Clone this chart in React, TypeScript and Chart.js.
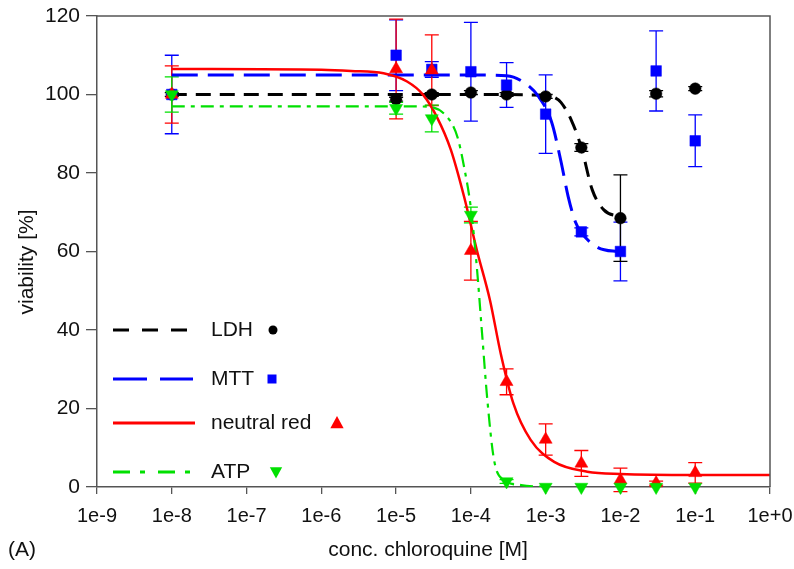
import React, { useEffect, useRef } from 'react';
import { Chart, registerables } from 'chart.js';

Chart.register(...registerables);

// ---------- data ----------
const concentrations = [1e-8, 1e-5, 3e-5, 1e-4, 3e-4, 1e-3, 3e-3, 1e-2, 3e-2, 1e-1];

const ldhValues = [100, 98.8, 100, 100.5, 100, 99.5, 86.5, 68.5, 100.2, 101.5];
const ldhErrors = [0.5, 0.5, 0.5, 0.5, 0.5, 0.5, 1, 11, 0.8, 0.5];

const mttValues = [100, 110, 106.4, 105.8, 102.4, 95, 65, 60, 106, 88.2];
const mttErrors = [10, 9, 2, 12.6, 5.7, 10, 1, 7.5, 10.2, 6.6];

const nrValues = [100, 106.5, 106.2, 60.2, 26.8, 12.1, 6, 1.8, 1, 3.6];
const nrErrors = [7.3, 12.7, 9, 7.5, 3.3, 4, 3.3, 3, 0.5, 2.6];

const atpValues = [100, 96.5, 93.9, 69.3, 1.4, 0, 0, 0, 0, 0];
const atpErrors = [4.5, 1.5, 3.4, 2, 0.5, 0, 0, 0, 0, 0];

// fitted curves
const ldhCurveX = [1e-8, 1e-5, 1e-4, 1e-3, 1.3e-3, 1.6e-3, 2.2e-3, 3e-3, 4.2e-3, 6e-3, 1e-2];
const ldhCurveY = [100, 100, 100, 99.8, 99.3, 98, 93.5, 86.5, 75.7, 70.6, 68.8];

const mttCurveX = [1e-8, 1e-5, 1e-4, 3e-4, 5e-4, 8e-4, 1.2e-3, 1.6e-3, 2e-3, 2.5e-3, 3e-3, 5e-3, 1e-2];
const mttCurveY = [105, 105, 105, 104.8, 103.2, 99.5, 93, 83, 74, 67.5, 64.8, 61, 59.9];

const nrCurveX = [1e-8, 1e-6, 2.5e-6, 6.8e-6, 1.4e-5, 2.3e-5, 3.5e-5, 5.4e-5, 8.1e-5, 1.2e-4, 1.8e-4, 2.5e-4, 3.7e-4, 6.3e-4, 1.3e-3, 3.6e-3, 1e-2, 1e-1, 1];
const nrCurveY = [106.5, 106.3, 106, 105.4, 103.3, 99.9, 94.3, 85.9, 74, 60.4, 47.6, 34.1, 21.3, 12, 6.4, 3.9, 3.3, 3.05, 3.05];

const atpCurveX = [1e-8, 1e-5, 2.6e-5, 4.8e-5, 6.6e-5, 8.1e-5, 1e-4, 1.2e-4, 1.41e-4, 1.66e-4, 2.04e-4, 2.75e-4, 4.7e-4, 7.8e-4, 1e-3];
const atpCurveY = [97, 97, 96.9, 94.3, 89.2, 81.6, 71, 56.1, 39.2, 22.2, 6.9, 1.8, 0.5, 0.1, 0];

const xTickValues = [1e-9, 1e-8, 1e-7, 1e-6, 1e-5, 1e-4, 1e-3, 1e-2, 1e-1, 1];
const xTickLabels = ['1e-9', '1e-8', '1e-7', '1e-6', '1e-5', '1e-4', '1e-3', '1e-2', '1e-1', '1e+0'];

const legendLabels = ['LDH', 'MTT', 'neutral red', 'ATP'];
const xTitle = 'conc. chloroquine [M]';
const yTitle = 'viability [%]';
const panelLabel = '(A)';

// ---------- styles ----------
const BLACK = '#000000';
const BLUE = '#0000ff';
const RED = '#ff0000';
const GREEN = '#00e000';
const FRAME = '#555555';
const TEXT = '#111111';
const FONT = "'Liberation Sans', Arial, Helvetica, sans-serif";

const toPoints = (xs: number[], ys: number[]) => xs.map((x, i) => ({ x, y: ys[i] }));

const errorSeries = [
  { values: mttValues, errors: mttErrors, color: BLUE },
  { values: ldhValues, errors: ldhErrors, color: BLACK },
  { values: nrValues, errors: nrErrors, color: RED },
  { values: atpValues, errors: atpErrors, color: GREEN },
];

const errorBarPlugin = {
  id: 'errorBars',
  beforeDatasetsDraw(chart: any) {
    const { ctx, scales } = chart;
    const xs = scales.x;
    const ys = scales.y;
    ctx.save();
    ctx.lineWidth = 1.3;
    errorSeries.forEach((s) => {
      ctx.strokeStyle = s.color;
      s.values.forEach((v, i) => {
        const e = s.errors[i];
        if (!e) return;
        const px = xs.getPixelForValue(concentrations[i]);
        const top = ys.getPixelForValue(v + e);
        const bot = ys.getPixelForValue(v - e);
        ctx.beginPath();
        ctx.moveTo(px, top);
        ctx.lineTo(px, bot);
        ctx.moveTo(px - 7, top);
        ctx.lineTo(px + 7, top);
        ctx.moveTo(px - 7, bot);
        ctx.lineTo(px + 7, bot);
        ctx.stroke();
      });
    });
    ctx.restore();
  },
};

function drawMarker(ctx: CanvasRenderingContext2D, kind: string, x: number, y: number, r: number, color: string) {
  ctx.fillStyle = color;
  ctx.beginPath();
  if (kind === 'circle') {
    ctx.arc(x, y, r, 0, Math.PI * 2);
  } else if (kind === 'rect') {
    ctx.rect(x - r, y - r, 2 * r, 2 * r);
  } else if (kind === 'up') {
    ctx.moveTo(x, y - r);
    ctx.lineTo(x + r * 0.95, y + r * 0.75);
    ctx.lineTo(x - r * 0.95, y + r * 0.75);
    ctx.closePath();
  } else {
    ctx.moveTo(x, y + r);
    ctx.lineTo(x + r * 0.95, y - r * 0.75);
    ctx.lineTo(x - r * 0.95, y - r * 0.75);
    ctx.closePath();
  }
  ctx.fill();
}

const legendItems = [
  { label: legendLabels[0], color: BLACK, dash: [16, 13], width: 3, y: 330, x2: 188, marker: 'circle', mx: 273, mr: 4.5 },
  { label: legendLabels[1], color: BLUE, dash: [34, 13], width: 3, y: 379, x2: 193, marker: 'rect', mx: 272, mr: 4.5 },
  { label: legendLabels[2], color: RED, dash: [], width: 3, y: 423, x2: 195, marker: 'up', mx: 337, mr: 7 },
  { label: legendLabels[3], color: GREEN, dash: [17, 10, 5, 13], width: 3, y: 472, x2: 193, marker: 'down', mx: 276, mr: 6.5 },
];

const annotationPlugin = {
  id: 'annotations',
  afterDraw(chart: any) {
    const { ctx, chartArea } = chart;
    ctx.save();
    // frame top / right
    ctx.strokeStyle = FRAME;
    ctx.lineWidth = 1.5;
    ctx.beginPath();
    ctx.moveTo(chartArea.left, chartArea.top);
    ctx.lineTo(chartArea.right, chartArea.top);
    ctx.lineTo(chartArea.right, chartArea.bottom);
    ctx.stroke();

    // titles
    ctx.fillStyle = TEXT;
    ctx.font = `21px ${FONT}`;
    ctx.textBaseline = 'middle';
    ctx.textAlign = 'center';
    ctx.fillText(xTitle, 428, 550);
    ctx.textAlign = 'left';
    ctx.fillText(panelLabel, 8, 550);
    ctx.save();
    ctx.translate(27, 262);
    ctx.rotate(-Math.PI / 2);
    ctx.textAlign = 'center';
    ctx.fillText(yTitle, 0, 0);
    ctx.restore();

    // legend
    legendItems.forEach((it) => {
      ctx.strokeStyle = it.color;
      ctx.lineWidth = it.width;
      ctx.setLineDash(it.dash);
      ctx.beginPath();
      ctx.moveTo(113, it.y);
      ctx.lineTo(it.x2, it.y);
      ctx.stroke();
      ctx.setLineDash([]);
      ctx.fillStyle = TEXT;
      ctx.textAlign = 'left';
      ctx.fillText(it.label, 211, it.y);
      drawMarker(ctx, it.marker, it.mx, it.y, it.mr, it.color);
    });
    ctx.restore();
  },
};

const markerDataset = (label: string, values: number[], color: string, style: string, radius: number, rotation: number, order: number) => ({
  label,
  data: toPoints(concentrations, values),
  showLine: false,
  pointStyle: style,
  pointRadius: radius,
  pointRotation: rotation,
  pointBackgroundColor: color,
  pointBorderColor: color,
  pointBorderWidth: 0.5,
  clip: false,
  order,
});

const curveDataset = (label: string, xs: number[], ys: number[], color: string, dash: number[], width: number, order: number) => ({
  label,
  data: toPoints(xs, ys),
  showLine: true,
  pointRadius: 0,
  borderColor: color,
  borderWidth: width,
  borderDash: dash,
  cubicInterpolationMode: 'monotone',
  fill: false,
  order,
});

export default function App() {
  const canvasRef = useRef<HTMLCanvasElement | null>(null);

  useEffect(() => {
    if (!canvasRef.current) return;
    const chart = new Chart(canvasRef.current, {
      type: 'scatter',
      data: {
        datasets: [
          markerDataset('ATP', atpValues, GREEN, 'triangle', 7.5, 180, 1),
          markerDataset('neutral red', nrValues, RED, 'triangle', 7.5, 0, 2),
          markerDataset('MTT', mttValues, BLUE, 'rect', 7.5, 0, 3),
          markerDataset('LDH', ldhValues, BLACK, 'circle', 5.8, 0, 4),
          curveDataset('ATP fit', atpCurveX, atpCurveY, GREEN, [13, 6, 4, 6], 2.2, 10),
          curveDataset('neutral red fit', nrCurveX, nrCurveY, RED, [], 2.5, 11),
          curveDataset('MTT fit', mttCurveX, mttCurveY, BLUE, [26, 10], 3, 12),
          curveDataset('LDH fit', ldhCurveX, ldhCurveY, BLACK, [15, 9], 3, 13),
        ] as any,
      },
      options: {
        responsive: false,
        animation: false,
        layout: { padding: { top: 16, right: 24, left: 0, bottom: 0 } },
        plugins: {
          legend: { display: false },
          tooltip: { enabled: false },
        },
        scales: {
          x: {
            type: 'logarithmic',
            min: 1e-9,
            max: 1,
            afterBuildTicks: (scale: any) => {
              scale.ticks = xTickValues.map((v) => ({ value: v }));
            },
            afterFit: (scale: any) => {
              scale.height = 82;
              scale.paddingLeft = 0;
              scale.paddingRight = 0;
            },
            ticks: {
              autoSkip: false,
              maxRotation: 0,
              minRotation: 0,
              color: TEXT,
              font: { family: FONT, size: 20 },
              padding: 10,
              callback: (_v: any, i: number) => xTickLabels[i],
            },
            grid: { display: true, drawOnChartArea: false, drawTicks: true, tickLength: 7, color: FRAME, lineWidth: 1.3 },
            border: { display: true, color: FRAME, width: 1.5 },
          },
          y: {
            type: 'linear',
            min: 0,
            max: 120,
            afterFit: (scale: any) => {
              scale.width = 97;
              scale.paddingTop = 0;
              scale.paddingBottom = 0;
            },
            ticks: { stepSize: 20, color: TEXT, font: { family: FONT, size: 21 }, padding: 6 },
            grid: { display: true, drawOnChartArea: false, drawTicks: true, tickLength: 11, color: FRAME, lineWidth: 1.3 },
            border: { display: true, color: FRAME, width: 1.5 },
          },
        },
      } as any,
      plugins: [errorBarPlugin, annotationPlugin],
    });
    return () => chart.destroy();
  }, []);

  return (
    <div style={{ position: 'fixed', left: 0, top: 0, width: 794, height: 569, background: '#fff' }}>
      <canvas ref={canvasRef} width={794} height={569} style={{ width: 794, height: 569, display: 'block' }} />
    </div>
  );
}
